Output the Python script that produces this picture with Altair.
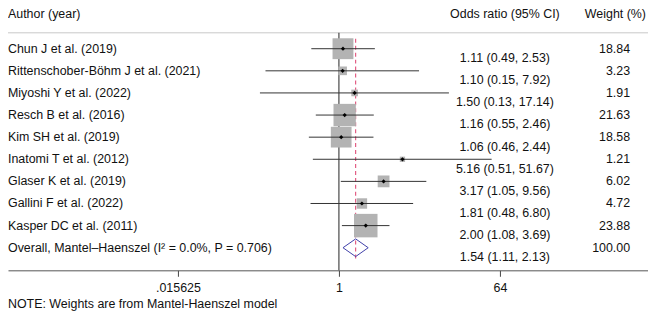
import altair as alt
import pandas as pd

authors = [
    "Chun J et al. (2019)",
    "Rittenschober-Böhm J et al. (2021)",
    "Miyoshi Y et al. (2022)",
    "Resch B et al. (2016)",
    "Kim SH et al. (2019)",
    "Inatomi T et al. (2012)",
    "Glaser K et al. (2019)",
    "Gallini F et al. (2022)",
    "Kasper DC et al. (2011)",
]
odds = [1.11, 1.10, 1.50, 1.16, 1.06, 5.16, 3.17, 1.81, 2.00]
lower = [0.49, 0.15, 0.13, 0.55, 0.46, 0.51, 1.05, 0.48, 1.08]
upper = [2.53, 7.92, 17.14, 2.46, 2.44, 51.67, 9.56, 6.80, 3.69]
weights = [18.84, 3.23, 1.91, 21.63, 18.58, 1.21, 6.02, 4.72, 23.88]

overall_label = "Overall, Mantel\u2013Haenszel (I\u00b2 = 0.0%, P = 0.706)"
overall_or = 1.54
overall_lo = 1.11
overall_hi = 2.13
overall_w = 100.00

tick_values = [0.015625, 1, 64]
headers = ["Author (year)", "Odds ratio (95% CI)", "Weight (%)"]
note = "NOTE: Weights are from Mantel-Haenszel model"

FONT = "Liberation Sans"
FS = 12.5
W, H = 644, 263

n = len(authors)
studies = pd.DataFrame({
    "author": authors,
    "est": odds,
    "lo": lower,
    "hi": upper,
    "w": weights,
    "row": list(range(n)),
})

labels = pd.DataFrame({
    "author": authors + [overall_label],
    "row": list(range(n + 1)),
    "ci": [f"{o:.2f} ({l:.2f}, {h:.2f})" for o, l, h in zip(odds + [overall_or], lower + [overall_lo], upper + [overall_hi])],
    "wt": [f"{w:.2f}" for w in weights + [overall_w]],
})

ov_row = n
diamond = pd.DataFrame({
    "x": [overall_lo, overall_or, overall_hi, overall_or, overall_lo],
    "row": [ov_row, ov_row - 0.4, ov_row, ov_row + 0.4, ov_row],
    "k": [0, 1, 2, 3, 4],
})

# x: log2 scale, 1 at 333px from the left, 27px per doubling
xdom = [2 ** (-333 / 27), 2 ** ((W - 333) / 27)]
xscale = alt.Scale(type="log", base=2, domain=xdom, nice=False)
yscale = alt.Scale(domain=[-1.798, 10.022], reverse=True, nice=False, zero=False)

xaxis = alt.Axis(
    values=tick_values,
    labelExpr="datum.value < 1 ? substring(toString(datum.value), 1) : toString(datum.value)",
    title=None, grid=False, ticks=True, tickSize=6, tickColor="#444",
    domainColor="#555", labelFont=FONT, labelFontSize=FS, labelColor="#111",
    labelPadding=5, labelFlush=False,
)


def X(f):
    return alt.X(f, scale=xscale, axis=xaxis)


def Y(f):
    return alt.Y(f, scale=yscale, axis=None)


base = alt.Chart(studies)

ci = base.mark_rule(color="#333", strokeWidth=1).encode(
    x=X("lo:Q"), x2=alt.X2("hi"), y=Y("row:Q"),
)

boxes = base.mark_square(color="#b3b3b3", opacity=1).encode(
    x=X("est:Q"), y=Y("row:Q"),
    size=alt.Size("w:Q", scale=alt.Scale(domain=[0, 100], range=[0, 2340]), legend=None),
)

pts = base.mark_point(shape="diamond", filled=True, color="#000", size=18, opacity=1).encode(
    x=X("est:Q"), y=Y("row:Q"),
)

null_line = alt.Chart(pd.DataFrame({"v": [1]})).mark_rule(color="#222", strokeWidth=1).encode(
    x=X("v:Q"), y=alt.value(24), y2=alt.value(H),
)

ov_line = alt.Chart(pd.DataFrame({"v": [overall_or]})).mark_rule(
    color="#e0507a", strokeWidth=1.1, strokeDash=[4, 3]
).encode(
    x=X("v:Q"), y=alt.value(30), y2=alt.value(252),
)

dia = alt.Chart(diamond).mark_line(color="#4040a8", strokeWidth=1).encode(
    x=X("x:Q"), y=Y("row:Q"), order="k:O",
)

top_line = alt.Chart(pd.DataFrame({"a": [0]})).mark_rule(color="#c8c8c8", strokeWidth=1).encode(
    x=alt.value(-4), x2=alt.value(W), y=alt.value(24)
)

lab = alt.Chart(labels)
txt_author = lab.mark_text(align="left", baseline="middle", font=FONT, fontSize=FS, color="#111").encode(
    x=alt.value(0), y=Y("row:Q"), text="author:N"
)
txt_ci = lab.mark_text(align="center", baseline="middle", font=FONT, fontSize=FS, color="#111", dy=9.5).encode(
    x=alt.value(500), y=Y("row:Q"), text="ci:N"
)
txt_w = lab.mark_text(align="right", baseline="middle", font=FONT, fontSize=FS, color="#111").encode(
    x=alt.value(626), y=Y("row:Q"), text="wt:N"
)

h1 = alt.Chart(pd.DataFrame({"t": [headers[0]]})).mark_text(
    align="left", baseline="middle", font=FONT, fontSize=FS, color="#111").encode(
    x=alt.value(0), y=alt.value(5), text="t:N")
h2 = alt.Chart(pd.DataFrame({"t": [headers[1]]})).mark_text(
    align="center", baseline="middle", font=FONT, fontSize=FS, color="#111").encode(
    x=alt.value(500), y=alt.value(5), text="t:N")
h3 = alt.Chart(pd.DataFrame({"t": [headers[2]]})).mark_text(
    align="right", baseline="middle", font=FONT, fontSize=FS, color="#111").encode(
    x=alt.value(642), y=alt.value(5), text="t:N")
nt = alt.Chart(pd.DataFrame({"t": [note]})).mark_text(
    align="left", baseline="middle", font=FONT, fontSize=FS, color="#111").encode(
    x=alt.value(0), y=alt.value(297), text="t:N")

chart = alt.layer(
    top_line, null_line, ov_line, boxes, ci, pts, dia,
    txt_author, txt_ci, txt_w, h1, h2, h3, nt,
).properties(
    width=W, height=H,
    autosize=alt.AutoSizeParams(type="none"),
    padding={"left": 0, "top": 0, "right": 0, "bottom": 44},
).configure_view(stroke=None)

chart.save("out.html", embed_options={"renderer": "svg", "actions": False})
